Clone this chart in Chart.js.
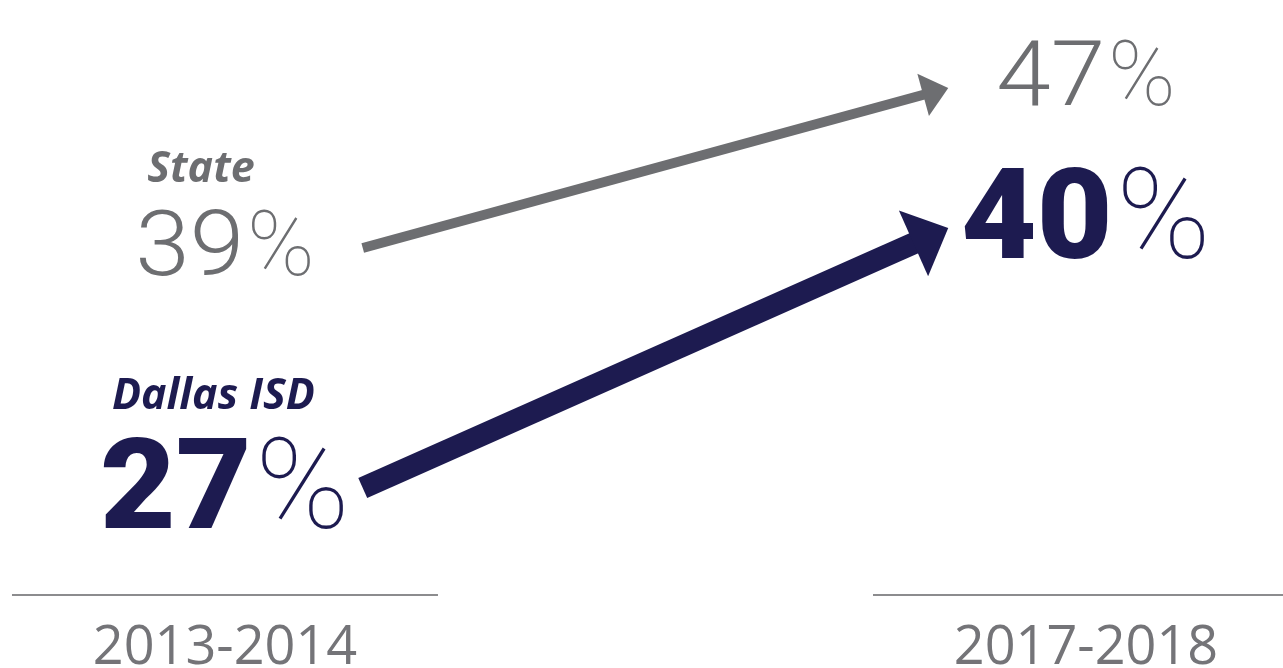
<!DOCTYPE html>
<html>
<head>
<meta charset="utf-8">
<script src="https://cdn.jsdelivr.net/npm/chart.js@4.4.1/dist/chart.umd.min.js"></script>
<style>
  html, body { margin: 0; padding: 0; background: #ffffff; }
  canvas { display: block; }
</style>
</head>
<body>
<canvas id="myChart" width="1283" height="668"></canvas>
<script>
// data
const periods = ['2013-2014', '2017-2018'];
const seriesNames = ['State', 'Dallas ISD'];
const stateValues = [39, 47];
const dallasValues = [27, 40];

const GRAY = '#6d6e71';
const NAVY = '#1d1b50';

// look of each series: line, arrow head, number
const seriesStyle = [
  { color: GRAY, width: 10, headLen: 26, headHalf: 22, digitWeight: 300, size: 91, digitScale: 1.08 },
  { color: NAVY, width: 22, headLen: 38, headHalf: 36, digitWeight: 900, size: 127, digitScale: 1.03 }
];
const arrowInset = 0.16;   // arrows start/stop a bit inside each period column

const seriesValues = [stateValues, dallasValues];

const datasets = seriesValues.map((vals, i) => ({
  label: seriesNames[i],
  data: vals.map((v, j) => ({ x: j === 0 ? j + arrowInset : j - arrowInset, y: v })),
  borderColor: seriesStyle[i].color,
  borderWidth: seriesStyle[i].width,
  borderCapStyle: 'butt',
  pointRadius: 0,
  tension: 0,
  fill: false
}));

function arrowGeom(meta) {
  const p0 = meta.data[0], p1 = meta.data[1];
  const dx = p1.x - p0.x, dy = p1.y - p0.y;
  const len = Math.sqrt(dx * dx + dy * dy);
  const d = { x: dx / len, y: dy / len };
  const n = { x: -d.y, y: d.x };
  return { p0, p1, d, n };
}

// cut the line short under the head, then draw the head
const arrowHeads = {
  id: 'arrowHeads',
  beforeDatasetDraw(chart, args) {
    const ctx = chart.ctx;
    const st = seriesStyle[args.index];
    const g = arrowGeom(args.meta);
    const stop = { x: g.p1.x - g.d.x * st.headLen * 0.6, y: g.p1.y - g.d.y * st.headLen * 0.6 };
    const back = { x: g.p0.x - g.d.x * 100, y: g.p0.y - g.d.y * 100 };
    ctx.save();
    ctx.beginPath();
    ctx.moveTo(back.x + g.n.x * 500, back.y + g.n.y * 500);
    ctx.lineTo(stop.x + g.n.x * 500, stop.y + g.n.y * 500);
    ctx.lineTo(stop.x - g.n.x * 500, stop.y - g.n.y * 500);
    ctx.lineTo(back.x - g.n.x * 500, back.y - g.n.y * 500);
    ctx.closePath();
    ctx.clip();
  },
  afterDatasetDraw(chart, args) {
    const ctx = chart.ctx;
    ctx.restore();
    const st = seriesStyle[args.index];
    const g = arrowGeom(args.meta);
    const base = { x: g.p1.x - g.d.x * st.headLen, y: g.p1.y - g.d.y * st.headLen };
    ctx.save();
    ctx.fillStyle = st.color;
    ctx.beginPath();
    ctx.moveTo(g.p1.x, g.p1.y);
    ctx.lineTo(base.x + g.n.x * st.headHalf, base.y + g.n.y * st.headHalf);
    ctx.lineTo(base.x - g.n.x * st.headHalf, base.y - g.n.y * st.headHalf);
    ctx.closePath();
    ctx.fill();
    ctx.restore();
  }
};

// "39%" style number: digits + thin percent sign, centred on cx/cy
function drawPercent(ctx, value, cx, cy, st) {
  const digits = String(value);
  const digitFont = st.digitWeight + ' ' + st.size + 'px Roboto';
  const pctFont = '100 ' + st.size + 'px Roboto';
  ctx.font = digitFont;
  const dw = ctx.measureText(digits).width * st.digitScale;
  ctx.font = pctFont;
  const pw = ctx.measureText('%').width;
  const gap = st.size * 0.03;
  const left = cx - (dw + gap + pw) / 2;
  const cap = 0.711 * st.size;
  const base = cy + cap / 2;
  ctx.fillStyle = st.color;
  ctx.textAlign = 'left';
  ctx.textBaseline = 'alphabetic';
  ctx.save();
  ctx.translate(left, base);
  ctx.scale(st.digitScale, 1);
  ctx.font = digitFont;
  ctx.fillText(digits, 0, 0);
  ctx.restore();
  ctx.font = pctFont;
  ctx.fillText('%', left + dw + gap, base);
  return { left: left, top: base - cap };
}

const labelsPlugin = {
  id: 'labelsPlugin',
  afterDraw(chart) {
    const ctx = chart.ctx;
    const xs = chart.scales.x;
    const c0 = xs.getPixelForValue(0);
    const c1 = xs.getPixelForValue(1);
    ctx.save();

    seriesValues.forEach((vals, i) => {
      const st = seriesStyle[i];
      const meta = chart.getDatasetMeta(i);
      const p0 = meta.data[0], p1 = meta.data[1];
      const box = drawPercent(ctx, vals[0], c0, p0.y - 5, st);
      drawPercent(ctx, vals[1], c1, p1.y - 15, st);
      ctx.font = 'italic bold 43px "Open Sans"';
      ctx.fillStyle = st.color;
      ctx.textAlign = 'left';
      ctx.textBaseline = 'alphabetic';
      ctx.fillText(seriesNames[i], box.left + 12, box.top - 29);
    });

    // period labels with a rule above each
    periods.forEach((p, j) => {
      const cx = xs.getPixelForValue(j);
      ctx.strokeStyle = '#8c8c8e';
      ctx.lineWidth = 2;
      ctx.beginPath();
      ctx.moveTo(cx - 213, 595);
      ctx.lineTo(cx + 213, 595);
      ctx.stroke();
      ctx.fillStyle = '#747478';
      ctx.font = '54px "Open Sans"';
      ctx.textAlign = 'center';
      ctx.fillText(p, cx, 664);
    });
    ctx.restore();
  }
};

new Chart(document.getElementById('myChart'), {
  type: 'line',
  data: { datasets: datasets },
  options: {
    responsive: false,
    animation: false,
    events: [],
    layout: { padding: 0 },
    plugins: { legend: { display: false }, tooltip: { enabled: false } },
    scales: {
      x: { type: 'linear', min: -0.2613, max: 1.2288, display: false },
      y: { type: 'linear', min: 18, max: 51.4, display: false }
    }
  },
  plugins: [arrowHeads, labelsPlugin]
});
</script>
</body>
</html>
